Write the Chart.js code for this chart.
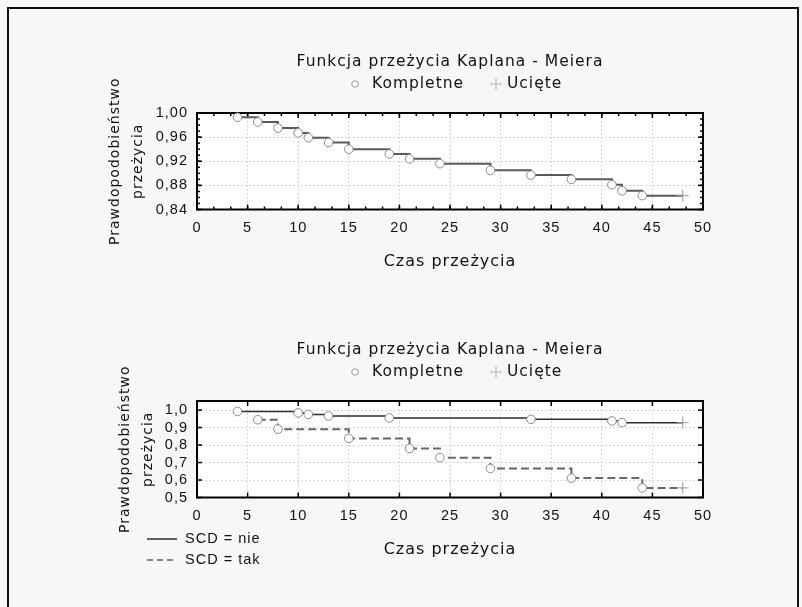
<!DOCTYPE html>
<html>
<head>
<meta charset="utf-8">
<script src="https://cdn.jsdelivr.net/npm/chart.js@4.4.1/dist/chart.umd.min.js"></script>
<style>
  html, body { margin: 0; padding: 0; background: #f7f7f7; overflow: hidden; }
  #page { position: relative; width: 802px; height: 607px; }
  #frame { position: absolute; left: 7px; top: 7px; width: 788px; height: 620px;
           border: 2px solid #111; border-bottom: none; }
  canvas { position: absolute; left: 0; }
  #c1 { top: 0; }
  #c2 { top: 288px; }
</style>
</head>
<body>
<div id="page">
  <div id="frame"></div>
  <canvas id="c1" width="802" height="300"></canvas>
  <canvas id="c2" width="802" height="300"></canvas>
</div>
<script>
// --- data ---
const xTicks = [0, 5, 10, 15, 20, 25, 30, 35, 40, 45, 50];
const yTicksTop = [0.84, 0.88, 0.92, 0.96, 1.00];
const yTicksBottom = [0.5, 0.6, 0.7, 0.8, 0.9, 1.0];

// top panel: all patients
const allTimes = [4, 6, 8, 10, 11, 13, 15, 19, 21, 24, 29, 33, 37, 41, 42, 44];
const allSurv = [0.993, 0.985, 0.975, 0.967, 0.959, 0.951, 0.940, 0.932, 0.924, 0.916, 0.905, 0.897, 0.890, 0.881, 0.871, 0.863];
const allCensTime = [48];
const allCensSurv = [0.863];

// bottom panel: SCD = nie
const nieTimes = [4, 10, 11, 13, 19, 33, 41, 42];
const nieSurv = [0.992, 0.984, 0.975, 0.966, 0.955, 0.947, 0.938, 0.928];
const nieCensTime = [48];
const nieCensSurv = [0.928];

// bottom panel: SCD = tak
const takTimes = [6, 8, 15, 21, 24, 29, 37, 44];
const takSurv = [0.945, 0.891, 0.838, 0.781, 0.728, 0.666, 0.611, 0.555];
const takCensTime = [48];
const takCensSurv = [0.555];

const titleText = 'Funkcja przeżycia Kaplana - Meiera';
const legendEvent = 'Kompletne';
const legendCens = 'Ucięte';

const pts = (xs, ys) => xs.map((x, i) => ({ x: x, y: ys[i] }));

// KM step line + event circles + censored crosses for one group
function groupSets(label, times, surv, censT, censS, color, width, dash) {
  return [
    {
      label: label, isCurve: true,
      data: pts(times.concat(censT), surv.concat(censS)),
      stepped: 'before', borderColor: color, borderWidth: width, borderDash: dash,
      pointRadius: 0, fill: false, order: 2
    },
    {
      label: legendEvent, data: pts(times, surv), showLine: false,
      pointStyle: 'circle', pointRadius: 4.3, pointBackgroundColor: '#fff',
      pointBorderColor: '#8a8a8a', pointBorderWidth: 1, order: 0, clip: 8
    },
    {
      label: legendCens, data: pts(censT, censS), showLine: false,
      pointStyle: 'cross', pointRadius: 6, pointBorderColor: '#9a9a9a',
      pointBorderWidth: 1, order: 1, clip: 8
    }
  ];
}

// white plot area, frame with inward ticks, title and legends
const plotDecor = {
  id: 'plotDecor',
  beforeDraw(chart) {
    const { ctx, chartArea: a } = chart;
    ctx.save();
    ctx.fillStyle = '#fff';
    ctx.fillRect(a.left, a.top, a.width, a.height);
    ctx.restore();
    ctx.letterSpacing = '1px';
  },
  beforeDatasetsDraw(chart, args, opts) {
    const { ctx, chartArea: a, scales: { x, y } } = chart;
    ctx.save();
    ctx.strokeStyle = '#000';
    ctx.lineWidth = 1.5;
    const seg = (x1, y1, x2, y2) => { ctx.beginPath(); ctx.moveTo(x1, y1); ctx.lineTo(x2, y2); ctx.stroke(); };
    if (opts.minorX) {
      const n = Math.round((x.max - x.min) / opts.minorX);
      for (let i = 0; i <= n; i++) {
        const px = x.getPixelForValue(x.min + i * opts.minorX);
        seg(px, a.top, px, a.top + 3); seg(px, a.bottom, px, a.bottom - 3);
      }
    }
    if (opts.minorY) {
      const n = Math.round((y.max - y.min) / opts.minorY);
      for (let i = 0; i <= n; i++) {
        const py = y.getPixelForValue(y.min + i * opts.minorY);
        seg(a.left, py, a.left + 3, py); seg(a.right, py, a.right - 3, py);
      }
    }
    x.ticks.forEach(t => {
      const px = x.getPixelForValue(t.value);
      seg(px, a.top, px, a.top + 5); seg(px, a.bottom, px, a.bottom - 5);
    });
    y.ticks.forEach(t => {
      const py = y.getPixelForValue(t.value);
      seg(a.left, py, a.left + 5, py); seg(a.right, py, a.right - 5, py);
    });
    ctx.lineWidth = 2;
    ctx.strokeRect(a.left, a.top, a.width, a.height);
    ctx.restore();
  },
  afterDraw(chart) {
    const { ctx, chartArea: a } = chart;
    const cx = (a.left + a.right) / 2;
    ctx.save();
    ctx.letterSpacing = '1px';
    ctx.fillStyle = '#111';
    ctx.textBaseline = 'middle';
    ctx.font = '15.5px "DejaVu Sans"';
    ctx.textAlign = 'center';
    ctx.fillText(titleText, cx, 62);
    // legend row: circle = complete, cross = censored
    ctx.textAlign = 'left';
    ctx.strokeStyle = '#9a9a9a';
    ctx.lineWidth = 1;
    ctx.beginPath();
    ctx.arc(cx - 95, 84, 3.3, 0, Math.PI * 2);
    ctx.stroke();
    ctx.fillText(legendEvent, cx - 78, 84);
    ctx.strokeStyle = '#b0b0b0';
    ctx.beginPath();
    ctx.moveTo(cx + 40, 84); ctx.lineTo(cx + 52, 84);
    ctx.moveTo(cx + 46, 78); ctx.lineTo(cx + 46, 90);
    ctx.stroke();
    ctx.fillText(legendCens, cx + 57, 84);
    // group legend (only where there are several curves)
    const curves = chart.data.datasets.filter(d => d.isCurve);
    if (curves.length > 1) {
      ctx.font = '14.5px "Liberation Sans"';
      curves.forEach((d, i) => {
        const yy = 251 + i * 21;
        ctx.strokeStyle = d.borderColor;
        ctx.lineWidth = 1.5;
        ctx.setLineDash(d.borderDash.length ? [6, 4] : []);
        ctx.beginPath();
        ctx.moveTo(147, yy); ctx.lineTo(177, yy);
        ctx.stroke();
        ctx.setLineDash([]);
        ctx.fillText(d.label, 185, yy);
      });
    }
    ctx.restore();
  }
};

function makeChart(canvas, datasets, yMin, yMax, yTicks, decimals, titlePad, minor) {
  return new Chart(canvas, {
    type: 'line',
    data: { datasets: datasets },
    options: {
      responsive: false,
      animation: false,
      events: [],
      layout: { padding: { top: 113, right: 99, bottom: 20.5, left: 0 } },
      scales: {
        x: {
          type: 'linear', min: 0, max: 50,
          afterBuildTicks: s => { s.ticks = xTicks.map(v => ({ value: v })); },
          afterFit: s => { s.height = 70; },
          grid: { color: '#d6d6d6', drawTicks: false },
          border: { display: false, dash: [2, 2] },
          ticks: { autoSkip: false, maxRotation: 0, padding: 10, color: '#111', font: { family: 'Liberation Sans', size: 14.5 } },
          title: {
            display: true, text: 'Czas przeżycia', color: '#111',
            font: { family: 'DejaVu Sans', size: 16 }, padding: { top: 0, bottom: 8 }
          }
        },
        y: {
          min: yMin, max: yMax,
          afterBuildTicks: s => { s.ticks = yTicks.map(v => ({ value: v })); },
          afterFit: s => { s.width = 197; },
          grid: { color: '#d6d6d6', drawTicks: false },
          border: { display: false, dash: [2, 2] },
          ticks: {
            autoSkip: false, padding: 9, color: '#111', font: { family: 'Liberation Sans', size: 14.5 },
            callback: v => v.toFixed(decimals).replace('.', ',')
          },
          title: {
            display: true, text: ['Prawdopodobieństwo', 'przeżycia'], color: '#111',
            font: { family: 'DejaVu Sans', size: 14, lineHeight: 1.7 },
            padding: { top: titlePad, bottom: 0 }
          }
        }
      },
      plugins: {
        legend: { display: false },
        title: { display: false },
        tooltip: { enabled: false },
        plotDecor: minor
      }
    },
    plugins: [plotDecor]
  });
}

makeChart(document.getElementById('c1'),
  groupSets('Wszyscy', allTimes, allSurv, allCensTime, allCensSurv, '#5a5a5a', 2, []),
  0.84, 1.0, yTicksTop, 2, 103, { minorX: 5 / 3, minorY: 0.01 });

makeChart(document.getElementById('c2'),
  groupSets('SCD = nie', nieTimes, nieSurv, nieCensTime, nieCensSurv, '#2e2e2e', 1.5, [])
    .concat(groupSets('SCD = tak', takTimes, takSurv, takCensTime, takCensSurv, '#666666', 2, [8, 4])),
  0.5, 1.052, yTicksBottom, 1, 113, { minorX: 0, minorY: 0 });
</script>
</body>
</html>
